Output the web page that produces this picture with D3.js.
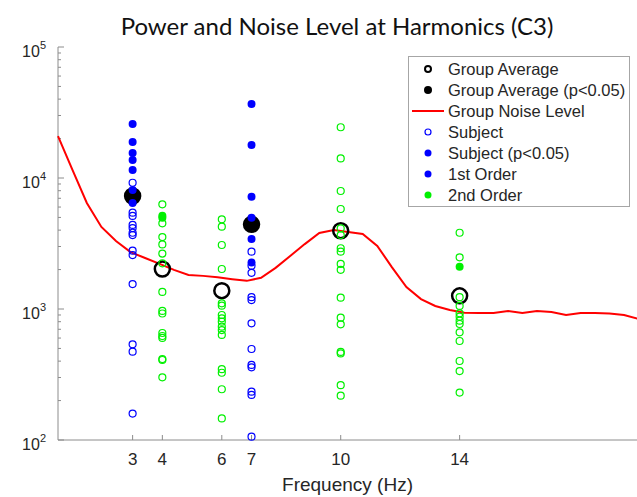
<!DOCTYPE html>
<html>
<head>
<meta charset="utf-8">
<script src="https://cdn.jsdelivr.net/npm/d3@7"></script>
<style>
  body { margin: 0; background: #fff; }
  svg { display: block; }
</style>
</head>
<body>
<svg id="chart"></svg>
<script>
// harmonic frequencies (Hz) shown on the x axis
var harmonics = [3, 4, 6, 7, 10, 14];
var harmonicOrder = [1, 2, 2, 1, 2, 2];

// group averages at each harmonic
var avgPower = [7290, 2020, 1380, 4430, 3960, 1260];
var avgSig = [true, false, false, true, false, false];

// single subjects, significant (filled) and not significant (open)
var h3Sig = [25800, 18800, 15500, 13700, 11500, 8100, 6450];
var h3Open = [9200, 5440, 5130, 4380, 4150, 3820, 3670, 2790, 2580, 1550, 537, 472, 159];
var h4Sig = [5150, 4980];
var h4Open = [6300, 4510, 3540, 3110, 2650, 2230, 1350, 966, 924, 656, 622, 601, 415, 408, 301];
var h6Sig = [];
var h6Open = [4840, 4250, 3080, 2020, 1105, 1060, 900, 849, 800, 733, 691, 634, 347, 326, 244, 146];
var h7Sig = [36700, 17900, 7200, 4980, 3420, 2260];
var h7Open = [2740, 2140, 1890, 1230, 1170, 778, 495, 374, 359, 234, 221, 106];
var h10Sig = [];
var h10Open = [24400, 14100, 7960, 5800, 4130, 3670, 2910, 2740, 2210, 1990, 1220, 858, 764, 470, 458, 262, 218];
var h14Sig = [2100];
var h14Open = [3820, 2480, 1230, 1055, 927, 874, 814, 768, 664, 570, 401, 336, 230];

// group noise level spectrum
var noiseFreq = [0.49, 0.98, 1.46, 1.95, 2.44, 2.93, 3.42, 3.91, 4.39, 4.88, 5.37, 5.86, 6.35, 6.84,
  7.32, 7.81, 8.30, 8.79, 9.28, 9.77, 10.25, 10.74, 11.23, 11.72, 12.21, 12.70, 13.18, 13.67,
  14.16, 14.65, 15.14, 15.63, 16.11, 16.60, 17.09, 17.58, 18.07, 18.55, 19.04, 19.53, 20.02];
var noisePower = [20900, 11500, 6450, 4230, 3300, 2720, 2450, 2210, 1990, 1820, 1790, 1750, 1690, 1640,
  1730, 2060, 2540, 3130, 3800, 4010, 3870, 3740, 3030, 2090, 1470, 1190, 1054, 982,
  937, 932, 932, 966, 932, 966, 949, 900, 932, 932, 924, 900, 839];

var legendLabels = ['Group Average', 'Group Average (p<0.05)', 'Group Noise Level',
  'Subject', 'Subject (p<0.05)', '1st Order', '2nd Order'];

var W = 637, H = 497;
var padL = 58, padB = 440, padT = 47;

var svg = d3.select('#chart').attr('width', W).attr('height', H);

var x = d3.scaleLinear().domain([0.49, 20]).range([padL, 638]);
var y = d3.scaleLog().domain([100, 100000]).range([padB, padT]);

var blue = '#0000ff', green = '#00f000', axisGray = '#8c8c8c', textCol = '#262626';

// title
svg.append('text')
  .attr('x', 337).attr('y', 35)
  .attr('text-anchor', 'middle')
  .style('font-family', 'Lato, "Open Sans", sans-serif')
  .style('font-size', '24px')
  .style('fill', '#111')
  .text('Power and Noise Level at Harmonics (C3)');

// y axis
svg.append('line')
  .attr('x1', padL).attr('x2', padL)
  .attr('y1', padT).attr('y2', padB)
  .attr('stroke', axisGray);

var minorTicks = [];
[100, 1000, 10000].forEach(function(d) {
  for (var k = 2; k <= 9; k++) minorTicks.push(d * k);
});
svg.selectAll('.ymin').data(minorTicks).enter().append('line')
  .attr('x1', padL).attr('x2', padL + 3)
  .attr('y1', function(d) { return y(d); }).attr('y2', function(d) { return y(d); })
  .attr('stroke', axisGray);

var majorTicks = [100, 1000, 10000, 100000];
svg.selectAll('.ymaj').data(majorTicks).enter().append('line')
  .attr('x1', padL).attr('x2', padL + 6)
  .attr('y1', function(d) { return y(d); }).attr('y2', function(d) { return y(d); })
  .attr('stroke', axisGray);

var ylab = svg.selectAll('.ylab').data(majorTicks).enter().append('text')
  .attr('x', 46).attr('y', function(d) { return y(d) + 10; })
  .attr('text-anchor', 'end')
  .style('font-family', '"Liberation Sans", Arial, sans-serif')
  .style('font-size', '16px')
  .style('fill', textCol);
ylab.append('tspan').text('10');
ylab.append('tspan').attr('dy', -8).style('font-size', '11px')
  .text(function(d) { return Math.round(Math.log10(d)); });

// x axis
svg.append('line')
  .attr('x1', padL).attr('x2', W)
  .attr('y1', padB).attr('y2', padB)
  .attr('stroke', axisGray);

svg.selectAll('.xt').data(harmonics).enter().append('line')
  .attr('x1', function(d) { return x(d); }).attr('x2', function(d) { return x(d); })
  .attr('y1', padB).attr('y2', padB - 5)
  .attr('stroke', axisGray);

svg.selectAll('.xlab').data(harmonics).enter().append('text')
  .attr('x', function(d) { return x(d); }).attr('y', 465)
  .attr('text-anchor', 'middle')
  .style('font-family', '"Liberation Sans", Arial, sans-serif')
  .style('font-size', '17px')
  .style('fill', textCol)
  .text(function(d) { return d; });

svg.append('text')
  .attr('x', (padL + W) / 2).attr('y', 491)
  .attr('text-anchor', 'middle')
  .style('font-family', '"Liberation Sans", Arial, sans-serif')
  .style('font-size', '19px')
  .style('fill', textCol)
  .text('Frequency (Hz)');

// noise line
var noise = noiseFreq.map(function(f, i) { return [f, noisePower[i]]; });
svg.append('path')
  .datum(noise)
  .attr('fill', 'none')
  .attr('stroke', '#ff0000')
  .attr('stroke-width', 2)
  .attr('d', d3.line().x(function(d) { return x(d[0]); }).y(function(d) { return y(d[1]); }));

// group averages
svg.selectAll('.avg').data(harmonics).enter().append('circle')
  .attr('cx', function(d) { return x(d); })
  .attr('cy', function(d, i) { return y(avgPower[i]); })
  .attr('r', 7.5)
  .attr('fill', function(d, i) { return avgSig[i] ? '#000' : 'none'; })
  .attr('stroke', '#000')
  .attr('stroke-width', 2.5);

// subjects
var subjSig = [h3Sig, h4Sig, h6Sig, h7Sig, h10Sig, h14Sig];
var subjOpen = [h3Open, h4Open, h6Open, h7Open, h10Open, h14Open];
var pts = [];
harmonics.forEach(function(f, i) {
  var col = harmonicOrder[i] === 1 ? blue : green;
  subjOpen[i].forEach(function(v) { pts.push({ f: f, v: v, sig: false, col: col }); });
  subjSig[i].forEach(function(v) { pts.push({ f: f, v: v, sig: true, col: col }); });
});
svg.selectAll('.subj').data(pts).enter().append('circle')
  .attr('cx', function(d) { return x(d.f); })
  .attr('cy', function(d) { return y(d.v); })
  .attr('r', function(d) { return d.sig ? 4 : 3.5; })
  .attr('fill', function(d) { return d.sig ? d.col : 'none'; })
  .attr('stroke', function(d) { return d.col; })
  .attr('stroke-width', function(d) { return d.sig ? 0 : 1.2; });

// legend
var lg = svg.append('g');
lg.append('rect')
  .attr('x', 408.5).attr('y', 56.5).attr('width', 221).attr('height', 150)
  .attr('fill', '#fff').attr('stroke', '#a6a6a6');

var ly = function(i) { return 69 + i * 21; };
lg.selectAll('text').data(legendLabels).enter().append('text')
  .attr('x', 448).attr('y', function(d, i) { return ly(i); })
  .attr('dominant-baseline', 'central')
  .style('font-family', '"Liberation Sans", Arial, sans-serif')
  .style('font-size', '16.5px')
  .style('fill', textCol)
  .text(function(d) { return d; });

var sx = 428;
lg.append('circle').attr('cx', sx).attr('cy', ly(0)).attr('r', 3).attr('fill', 'none').attr('stroke', '#000').attr('stroke-width', 2);
lg.append('circle').attr('cx', sx).attr('cy', ly(1)).attr('r', 4).attr('fill', '#000');
lg.append('line').attr('x1', 412).attr('x2', 444).attr('y1', ly(2)).attr('y2', ly(2)).attr('stroke', '#ff0000').attr('stroke-width', 2);
lg.append('circle').attr('cx', sx).attr('cy', ly(3)).attr('r', 3).attr('fill', 'none').attr('stroke', blue).attr('stroke-width', 1.2);
lg.append('circle').attr('cx', sx).attr('cy', ly(4)).attr('r', 3.5).attr('fill', blue);
lg.append('circle').attr('cx', sx).attr('cy', ly(5)).attr('r', 3.5).attr('fill', blue);
lg.append('circle').attr('cx', sx).attr('cy', ly(6)).attr('r', 3.5).attr('fill', green);
</script>
</body>
</html>
